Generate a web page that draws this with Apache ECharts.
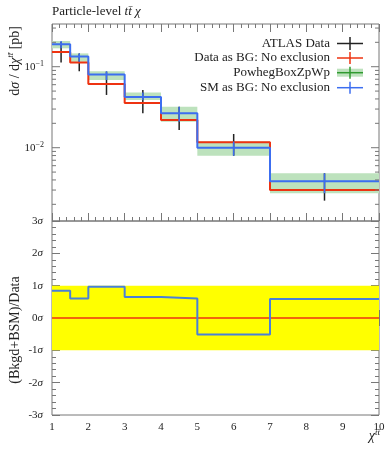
<!DOCTYPE html>
<html><head><meta charset="utf-8">
<script src="https://cdn.jsdelivr.net/npm/echarts@6/dist/echarts.min.js"></script>
<style>html,body{margin:0;padding:0;background:#fff}#c{width:392px;height:450px}</style>
</head><body><div id="c"></div>
<script>
var binEdges = [1, 1.5, 2, 3, 4, 5, 7, 10];
var dataX = [1.25, 1.75, 2.5, 3.5, 4.5, 6, 8.5];
var dataVal = [0.152, 0.113, 0.0611, 0.0356, 0.0220, 0.01166, 0.00301];
var dataErrLo = [0.113, 0.0877, 0.0448, 0.0266, 0.0166, 0.00796, 0.00222];
var dataErrHi = [0.202, 0.146, 0.087, 0.0515, 0.0321, 0.01476, 0.00483];
var dataAsBG = [0.152, 0.113, 0.0611, 0.0356, 0.0220, 0.01166, 0.00301];
var smAsBG = [0.189, 0.134, 0.080, 0.0423, 0.0266, 0.0100, 0.00385];
var powhegLo = [0.1686, 0.115, 0.0686, 0.0388, 0.0209, 0.00796, 0.00274];
var powhegHi = [0.2075, 0.146, 0.0877, 0.0481, 0.0321, 0.0119, 0.00483];
var ratioSig = [0.84, 0.60, 0.97, 0.65, 0.60, -0.51, 0.59];
var xTickLabels = ['1','2','3','4','5','6','7','8','9','10'];
var sigTickLabels = ['-3','-2','-1','0','1','2','3'];
var logTickLabels = ['10^-1', '10^-2'];

var SERIF = '"Liberation Serif","DejaVu Serif",serif';
var RED = '#ee3311', BLUE = '#3c6ef0', GREEN_FILL = '#bde2bd', GREEN = '#2f9a2f';

function steps(vals) {
  var pts = [];
  for (var i = 0; i < vals.length; i++) {
    pts.push([binEdges[i], vals[i]]);
    pts.push([binEdges[i + 1], vals[i]]);
  }
  return pts;
}
var logTicks = [];
[0.001, 0.01, 0.1].forEach(function (d) {
  for (var k = 1; k <= 9; k++) logTicks.push([d * k, k === 1 ? 1 : 0]);
});
var yMinLog = 0.001245, yMaxLog = 0.3367;
logTicks = logTicks.filter(function (t) { return t[0] > yMinLog && t[0] < yMaxLog; });

var chart = echarts.init(document.getElementById('c'), null, {renderer: 'canvas'});
var tickStyle = {color: '#777', width: 1};
function xAx(grid, pos, labels) {
  return {
    type: 'value', gridIndex: grid, position: pos, min: 1, max: 10, interval: 1,
    axisLine: {show: false}, splitLine: {show: false},
    axisTick: {show: true, inside: true, length: 8, lineStyle: tickStyle},
    minorTick: {show: true, splitNumber: 5, length: 4, lineStyle: tickStyle},
    axisLabel: labels ? {show: true, margin: 7, fontFamily: SERIF, fontSize: 11, color: '#222',
      formatter: function (v) { return xTickLabels[Math.round(v) - 1]; }} : {show: false}
  };
}
function sigAx(pos, labels) {
  return {
    type: 'value', gridIndex: 1, position: pos, min: -3, max: 3, interval: 1,
    axisLine: {show: false}, splitLine: {show: false},
    axisTick: {show: true, inside: true, length: 8, lineStyle: tickStyle},
    minorTick: {show: true, splitNumber: 5, length: 4, lineStyle: tickStyle},
    axisLabel: labels ? {show: true, margin: 9, fontFamily: SERIF, fontSize: 11, color: '#222',
      formatter: function (v) { return '{n|' + sigTickLabels[Math.round(v) + 3] + '}{s|σ}'; },
      rich: {n: {fontFamily: SERIF, fontSize: 11, color: '#222'}, s: {fontFamily: SERIF, fontSize: 11, fontStyle: 'italic', color: '#222'}}
    } : {show: false}
  };
}

var option = {
  animation: false,
  grid: [
    {left: 52, top: 24, width: 327, height: 197, show: true, borderColor: '#777', borderWidth: 1, backgroundColor: 'transparent'},
    {left: 52, top: 221, width: 327, height: 194, show: true, borderColor: '#777', borderWidth: 1, backgroundColor: 'transparent'}
  ],
  xAxis: [xAx(0, 'top', false), xAx(0, 'bottom', false), xAx(1, 'top', false), xAx(1, 'bottom', true)],
  yAxis: [
    {type: 'log', logBase: 10, gridIndex: 0, min: yMinLog, max: yMaxLog,
     axisLine: {show: false}, splitLine: {show: false}, axisTick: {show: false}, minorTick: {show: false},
     axisLabel: {show: true, margin: 8, showMinLabel: false, showMaxLabel: false,
       formatter: function (v) {
         var l = Math.log(v) / Math.LN10;
         if (Math.abs(l - Math.round(l)) > 1e-6) return '';
         var idx = -Math.round(l) - 1;
         if (idx < 0 || idx >= logTickLabels.length) return '';
         var parts = logTickLabels[idx].split('^');
         return '{b|' + parts[0] + '}{s|' + parts[1].replace('-', '−') + '}';
       },
       rich: {b: {fontFamily: SERIF, fontSize: 11, color: '#222', lineHeight: 14},
              s: {fontFamily: SERIF, fontSize: 8, color: '#222', verticalAlign: 'top', lineHeight: 14}}
     }},
    sigAx('left', true),
    sigAx('right', false)
  ],
  series: [
    {type: 'custom', xAxisIndex: 0, yAxisIndex: 0, z: 1, silent: true,
     data: binEdges.slice(0, -1).map(function (e, i) { return [e, binEdges[i + 1], powhegLo[i], powhegHi[i]]; }),
     renderItem: function (p, api) {
       var a = api.coord([api.value(0), api.value(3)]);
       var b = api.coord([api.value(1), api.value(2)]);
       return {type: 'rect', shape: {x: a[0], y: a[1], width: b[0] - a[0], height: b[1] - a[1]}, style: {fill: GREEN_FILL}};
     }},
    {type: 'custom', xAxisIndex: 0, yAxisIndex: 0, z: 2, silent: true,
     data: dataX.map(function (x, i) { return [x, dataErrLo[i], dataErrHi[i]]; }),
     renderItem: function (p, api) {
       var a = api.coord([api.value(0), api.value(1)]);
       var b = api.coord([api.value(0), api.value(2)]);
       return {type: 'line', shape: {x1: a[0], y1: a[1], x2: b[0], y2: b[1]}, style: {stroke: '#222', lineWidth: 1.5}};
     }},
    {type: 'line', xAxisIndex: 0, yAxisIndex: 0, z: 3, data: steps(dataAsBG), showSymbol: false, symbol: 'none',
     lineStyle: {color: RED, width: 2}},
    {type: 'line', xAxisIndex: 0, yAxisIndex: 0, z: 4, data: steps(smAsBG), showSymbol: false, symbol: 'none',
     lineStyle: {color: BLUE, width: 2}},
    {type: 'custom', xAxisIndex: 0, yAxisIndex: 0, z: 5, silent: true,
     data: dataX.map(function (x, i) { return [x, powhegLo[i], powhegHi[i]]; }),
     renderItem: function (p, api) {
       var a = api.coord([api.value(0), api.value(1)]);
       var b = api.coord([api.value(0), api.value(2)]);
       return {type: 'line', shape: {x1: a[0], y1: a[1], x2: b[0], y2: b[1]}, style: {stroke: BLUE, lineWidth: 1.5}};
     }},
    {type: 'custom', xAxisIndex: 0, yAxisIndex: 0, z: 6, silent: true,
     data: logTicks,
     renderItem: function (p, api) {
       var v = api.value(0), major = api.value(1);
       var L = api.coord([1, v]), R = api.coord([10, v]);
       var len = major ? 8 : 4;
       return {type: 'group', children: [
         {type: 'line', shape: {x1: L[0], y1: L[1], x2: L[0] + len, y2: L[1]}, style: {stroke: '#777', lineWidth: 1}},
         {type: 'line', shape: {x1: R[0], y1: R[1], x2: R[0] - len, y2: R[1]}, style: {stroke: '#777', lineWidth: 1}}
       ]};
     }},
    {type: 'custom', xAxisIndex: 2, yAxisIndex: 1, z: 1, silent: true,
     data: [[1, 10, -1, 1]],
     renderItem: function (p, api) {
       var a = api.coord([api.value(0), api.value(3)]);
       var b = api.coord([api.value(1), api.value(2)]);
       return {type: 'rect', shape: {x: a[0], y: a[1], width: b[0] - a[0], height: b[1] - a[1]}, style: {fill: '#ffff00'}};
     }},
    {type: 'line', xAxisIndex: 2, yAxisIndex: 1, z: 3, data: [[1, 0], [10, 0]], showSymbol: false, symbol: 'none',
     lineStyle: {color: RED, width: 1.5, cap: 'butt'}},
    {type: 'line', xAxisIndex: 2, yAxisIndex: 1, z: 4, data: steps(ratioSig), showSymbol: false, symbol: 'none',
     lineStyle: {color: '#4a80d8', width: 2}}
  ],
  graphic: [
    {type: 'text', left: 52, top: 5, style: {
      text: '{r|Particle-level }{i|t}{i|t\u0304}{r| }{i|χ}', fontFamily: SERIF, fontSize: 13,
      rich: {r: {fontFamily: SERIF, fontSize: 13, fill: '#222'}, i: {fontFamily: SERIF, fontSize: 13, fontStyle: 'italic', fill: '#222'}}}},
    {type: 'text', x: 15, y: 26, rotation: Math.PI / 2, style: {
      text: '{r|d}{i|σ}{r| / d}{i|χ}{s|tt\u0304}{r| [pb]}', align: 'right', verticalAlign: 'middle',
      rich: {r: {fontFamily: SERIF, fontSize: 14, fill: '#222', lineHeight: 17}, i: {fontFamily: SERIF, fontSize: 14, fontStyle: 'italic', fill: '#222', lineHeight: 17},
             s: {fontFamily: SERIF, fontSize: 9, fontStyle: 'italic', fill: '#222', verticalAlign: 'top', lineHeight: 17}}}},
    {type: 'text', x: 15, y: 330, rotation: Math.PI / 2, style: {
      text: '(Bkgd+BSM)/Data', fontFamily: SERIF, fontSize: 14, fill: '#222', align: 'center', verticalAlign: 'middle'}},
    {type: 'text', x: 380, y: 436, style: {
      text: '{i|χ}{s|tt\u0304}', align: 'right', verticalAlign: 'middle',
      rich: {i: {fontFamily: SERIF, fontSize: 14, fontStyle: 'italic', fill: '#222', lineHeight: 16},
             s: {fontFamily: SERIF, fontSize: 9, fontStyle: 'italic', fill: '#222', verticalAlign: 'top', lineHeight: 16}}}},
    {type: 'group', children: [
      {type: 'text', x: 330, y: 43.5, style: {text: 'ATLAS Data', fontFamily: SERIF, fontSize: 13, fill: '#222', align: 'right', verticalAlign: 'middle'}},
      {type: 'line', shape: {x1: 337, y1: 43.5, x2: 363, y2: 43.5}, style: {stroke: '#222', lineWidth: 1.5}},
      {type: 'line', shape: {x1: 350, y1: 37, x2: 350, y2: 50}, style: {stroke: '#222', lineWidth: 1.5}},
      {type: 'text', x: 330, y: 58, style: {text: 'Data as BG: No exclusion', fontFamily: SERIF, fontSize: 13, fill: '#222', align: 'right', verticalAlign: 'middle'}},
      {type: 'line', shape: {x1: 337, y1: 58, x2: 363, y2: 58}, style: {stroke: RED, lineWidth: 1.5}},
      {type: 'line', shape: {x1: 350, y1: 52, x2: 350, y2: 64}, style: {stroke: RED, lineWidth: 1.5}},
      {type: 'text', x: 330, y: 72.7, style: {text: 'PowhegBoxZpWp', fontFamily: SERIF, fontSize: 13, fill: '#222', align: 'right', verticalAlign: 'middle'}},
      {type: 'rect', shape: {x: 337, y: 68.7, width: 26, height: 8}, style: {fill: GREEN_FILL}},
      {type: 'line', shape: {x1: 337, y1: 72.7, x2: 363, y2: 72.7}, style: {stroke: GREEN, lineWidth: 1.5}},
      {type: 'line', shape: {x1: 350, y1: 66.7, x2: 350, y2: 78.7}, style: {stroke: GREEN, lineWidth: 1.5}},
      {type: 'text', x: 330, y: 87.7, style: {text: 'SM as BG: No exclusion', fontFamily: SERIF, fontSize: 13, fill: '#222', align: 'right', verticalAlign: 'middle'}},
      {type: 'line', shape: {x1: 337, y1: 87.7, x2: 363, y2: 87.7}, style: {stroke: BLUE, lineWidth: 1.5}},
      {type: 'line', shape: {x1: 350, y1: 81.7, x2: 350, y2: 93.7}, style: {stroke: BLUE, lineWidth: 1.5}}
    ]}
  ]
};
chart.setOption(option);
</script></body></html>
